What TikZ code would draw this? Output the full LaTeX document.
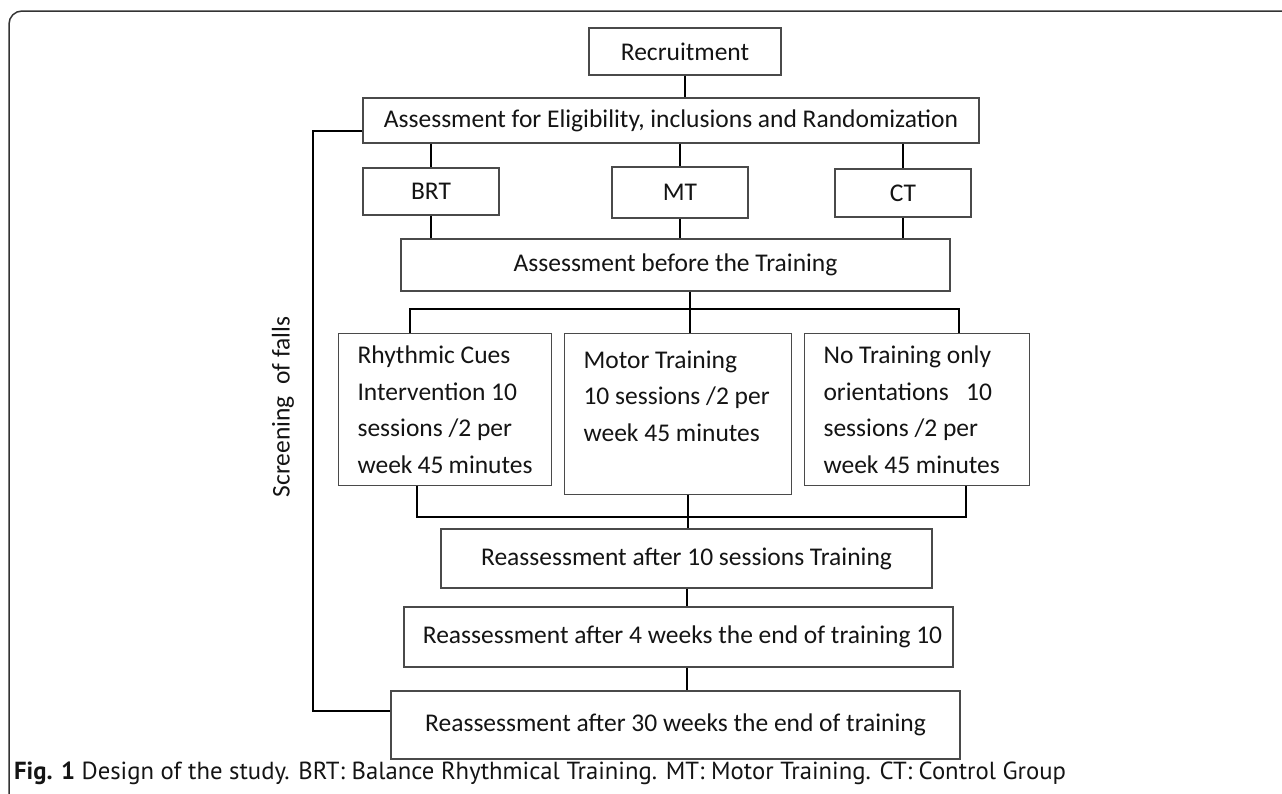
\documentclass[tikz,border=0pt]{standalone}
\usepackage{fontspec}
\setmainfont{Carlito}
\newfontfamily\capfont{PT Sans}
\usetikzlibrary{positioning,calc}
\definecolor{boxgray}{HTML}{4A4A4A}
\definecolor{framegray}{HTML}{333333}
\definecolor{inkblack}{HTML}{141414}
\tikzset{
  box/.style={draw=boxgray, line width=1.1pt, inner sep=0pt, text=inkblack,
    font=\fontsize{25.5}{30}\selectfont},
  groupbox/.style={box, anchor=north west, align=flush left, inner xsep=19pt,
    inner ysep=0pt, font=\fontsize{25.5}{36.5}\selectfont},
  conn/.style={draw=black, line width=2pt},
}

\begin{document}
\begin{tikzpicture}[x=1pt,y=-1pt]
  \useasboundingbox (0,0) rectangle (1282,793);
  % marco
  \draw[framegray, line width=1.5pt, rounded corners=13pt] (9,800) -- (9,11) -- (1290,11);

  % cajas superiores
  \node[box, minimum width=192, minimum height=47] (recruit) at (685,51.5) {Recruitment};
  \node[box, minimum width=616, minimum height=45] (elig) at (671,120.5)
    {Assessment for Eligibility, inclusions and Randomization};
  \node[box, minimum width=136, minimum height=47] (brt) at (431,191.5) {BRT};
  \node[box, minimum width=136, minimum height=51] (mt) at (680,192.5) {MT};
  \node[box, minimum width=136, minimum height=48] (ct) at (903,193) {CT};
  \node[box, minimum width=549, minimum height=52] (before) at (675.5,265)
    {Assessment before the Training};

  % grupos
  \node[groupbox, text width=175, minimum height=152] (rhythm) at (338,333)
    {Rhythmic~Cues\\Intervention~10\\sessions~/2~per\\week~45~minutes};
  \node[groupbox, text width=189, minimum height=161] (mtbox) at (564,333)
    {Motor~Training\\10~sessions~/2~per\\week~45~minutes\\\mbox{}};
  \node[groupbox, text width=187, minimum height=152] (nt) at (804,333)
    {No~Training~only\\orientations~~~10\\sessions~/2~per\\week~45~minutes};

  % reevaluaciones
  \node[box, minimum width=491, minimum height=59] (reass10) at (686.5,558.5)
    {Reassessment after 10 sessions Training};
  \node[box, minimum width=549, minimum height=60] (reass4) at (678.5,637)
    {\hspace{8pt}Reassessment after 4 weeks the end of training 10};
  \node[box, minimum width=569, minimum height=68] (reass30) at (675.5,725)
    {Reassessment after 30 weeks the end of training};

  \node[rotate=90, inner sep=0pt, text=inkblack, font=\fontsize{25.5}{30}\selectfont]
    (falls) at (283,407) {Screening\ \ of falls};

  % conectores
  \draw[conn] (recruit.south) -- (recruit.south |- elig.north);
  \foreach \g in {brt,mt,ct} {
    \draw[conn] (\g.north |- elig.south) -- (\g.north);
    \draw[conn] (\g.south) -- (\g.south |- before.north);
  }
  \coordinate (hubtop) at (690,309);
  \coordinate (hubbot) at (688,517);
  \draw[conn] ($(rhythm.north west)+(72,0)$) |- (hubtop) -| ($(nt.north west)+(155,0)$);
  \draw[conn] (before.south -| hubtop) -- (hubtop |- mtbox.north);
  \draw[conn] ($(rhythm.south west)+(79,0)$) |- (hubbot) -| ($(nt.south west)+(162,0)$);
  \draw[conn] (mtbox.south -| hubbot) -- (hubbot |- reass10.north);
  \draw[conn] (reass10.south) -- (reass10.south |- reass4.north);
  \draw[conn] (reass10.south |- reass4.south) -- (reass10.south |- reass30.north);

  % cribado de caidas
  \coordinate (fallsx) at (313,0);
  \coordinate (eligout) at ([yshift=-10.5pt]elig.west);
  \coordinate (fallsin) at ([yshift=14pt]reass30.west);
  \draw[conn] (eligout) -- (eligout -| fallsx) -- (fallsin -| fallsx) -- (fallsin);

  % pie
  \node[anchor=base west, inner sep=0pt, text=inkblack,
    font=\capfont\fontsize{24.7}{28}\selectfont] (caption) at (14,779)
    {\textbf{Fig. 1} Design of the study. BRT: Balance Rhythmical Training. MT: Motor Training. CT: Control Group};
\end{tikzpicture}
\end{document}
